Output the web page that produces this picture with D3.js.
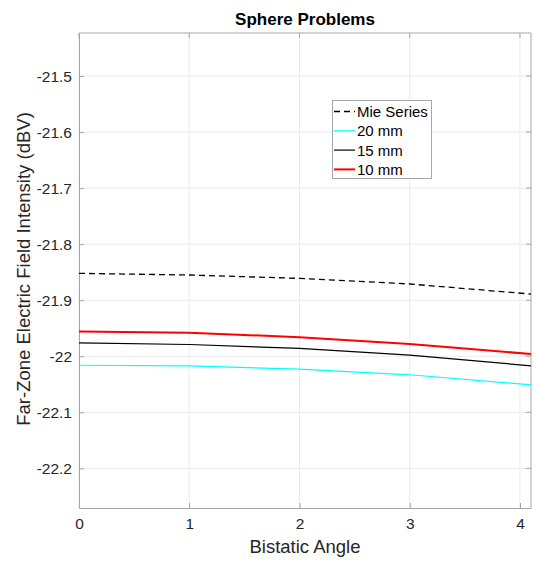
<!DOCTYPE html>
<html><head><meta charset="utf-8">
<script src="https://cdn.jsdelivr.net/npm/d3@7"></script>
<style>body{margin:0;background:#fff}svg{display:block}text{font-family:"Liberation Sans",Arial,Helvetica,sans-serif}</style>
</head><body><svg id="c" width="536" height="563"></svg>
<script>
const angles = [0, 1, 2, 3, 4.1];
const mieSeries = [-21.852, -21.855, -21.861, -21.871, -21.889];
const mm20 = [-22.016, -22.017, -22.023, -22.033, -22.051];
const mm15 = [-21.976, -21.979, -21.986, -21.998, -22.017];
const mm10 = [-21.956, -21.958, -21.966, -21.978, -21.996];
const xTicks = [0, 1, 2, 3, 4];
const yTicks = [-21.5, -21.6, -21.7, -21.8, -21.9, -22, -22.1, -22.2];
const seriesNames = ["Mie Series", "20 mm", "15 mm", "10 mm"];

const svg = d3.select("#c");
const L = 79, R = 531, T = 33, B = 508;
const x = d3.scaleLinear().domain([0, 4.1]).range([L, R]);
const y = d3.scaleLinear().domain([-22.2707, -21.4232]).range([B, T]);
const tc = "#262626", ac = "#a6a6a6";

// grid
const g = svg.append("g");
g.selectAll(".gx").data(xTicks).join("line").attr("x1", d => x(d)).attr("x2", d => x(d))
  .attr("y1", T).attr("y2", B).attr("stroke", "#ebebeb").attr("stroke-width", 1);
g.selectAll(".gy").data(yTicks).join("line").attr("y1", d => y(d)).attr("y2", d => y(d))
  .attr("x1", L).attr("x2", R).attr("stroke", "#ebebeb").attr("stroke-width", 1);

// axes
const xa = svg.append("g").attr("transform", `translate(0,${B})`)
  .call(d3.axisBottom(x).tickValues(xTicks).tickSizeInner(-5).tickSizeOuter(0).tickPadding(10).tickFormat(d3.format("d")));
const ya = svg.append("g").attr("transform", `translate(${L},0)`)
  .call(d3.axisLeft(y).tickValues(yTicks).tickSizeInner(-5).tickSizeOuter(0).tickPadding(7).tickFormat(d => String(d)));
[xa, ya].forEach(a => {
  a.select(".domain").attr("stroke", ac);
  a.selectAll(".tick line").attr("stroke", ac);
  a.selectAll(".tick text").attr("fill", tc).attr("font-size", 15.5).attr("font-family", '"Liberation Sans",Arial,sans-serif');
});
// top & right border
svg.append("line").attr("x1", L).attr("x2", R).attr("y1", T).attr("y2", T).attr("stroke", ac);
svg.append("line").attr("x1", R).attr("x2", R).attr("y1", T).attr("y2", B).attr("stroke", ac);
svg.selectAll(".tr").data(yTicks).join("line").attr("x1", R).attr("x2", R - 5)
  .attr("y1", d => y(d)).attr("y2", d => y(d)).attr("stroke", ac);
svg.selectAll(".tt").data(xTicks).join("line").attr("y1", T).attr("y2", T + 5)
  .attr("x1", d => x(d)).attr("x2", d => x(d)).attr("stroke", ac);

// lines
const series = [
  {name: seriesNames[0], v: mieSeries, c: "#000", w: 1.3, dash: "6,4"},
  {name: seriesNames[1], v: mm20, c: "#00ffff", w: 1.2, dash: null},
  {name: seriesNames[2], v: mm15, c: "#000", w: 1.2, dash: null},
  {name: seriesNames[3], v: mm10, c: "#ff0000", w: 2, dash: null}
];
const line = d3.line().x((d, i) => x(angles[i])).y(d => y(d));
series.forEach(s => {
  svg.append("path").attr("d", line(s.v)).attr("fill", "none").attr("stroke", s.c)
    .attr("stroke-width", s.w).attr("stroke-dasharray", s.dash);
});

// title & labels
svg.append("text").attr("x", 305).attr("y", 25).attr("text-anchor", "middle").attr("font-size", 17)
  .attr("font-weight", "bold").attr("fill", "#000").text("Sphere Problems");
svg.append("text").attr("x", 305).attr("y", 553).attr("text-anchor", "middle").attr("font-size", 18.5)
  .attr("fill", tc).text("Bistatic Angle");
svg.append("text").attr("transform", "translate(30,269) rotate(-90)").attr("text-anchor", "middle")
  .attr("font-size", 18.5).attr("fill", tc).text("Far-Zone Electric Field Intensity (dBV)");

// legend
const lg = svg.append("g");
lg.append("rect").attr("x", 332.5).attr("y", 100.5).attr("width", 99).attr("height", 78)
  .attr("fill", "#fff").attr("stroke", "#a6a6a6");
series.forEach((s, i) => {
  const yy = 111.5 + i * 19.3;
  lg.append("line").attr("x1", 334).attr("x2", 355).attr("y1", yy).attr("y2", yy)
    .attr("stroke", s.c).attr("stroke-width", s.w).attr("stroke-dasharray", s.dash);
  lg.append("text").attr("x", 357).attr("y", yy + 5.5).attr("font-size", 15).attr("fill", "#000").text(s.name);
});
</script></body></html>
